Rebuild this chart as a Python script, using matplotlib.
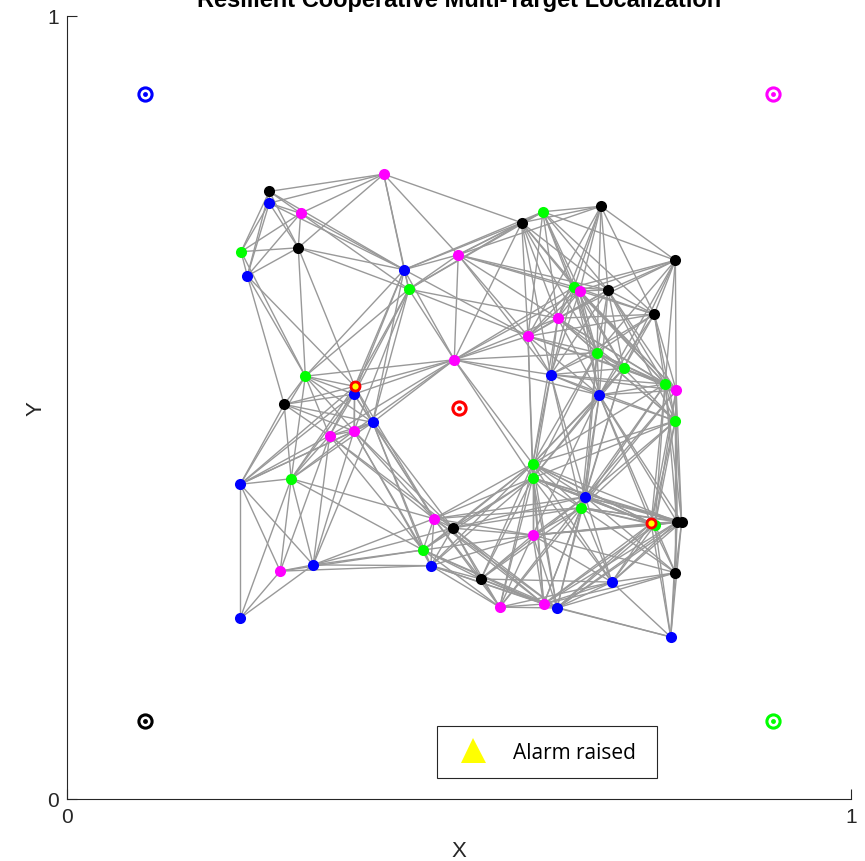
import numpy as np
import matplotlib
matplotlib.use("Agg")
import matplotlib.pyplot as plt
from matplotlib.lines import Line2D

plt.rcParams['font.family'] = ['Liberation Sans', 'DejaVu Sans']

# sensor nodes, grouped by the target they track
blue_x = [0.258, 0.230, 0.430, 0.366, 0.390, 0.221, 0.314, 0.221, 0.464, 0.617, 0.679, 0.661, 0.695, 0.625, 0.770]
blue_y = [0.761, 0.668, 0.676, 0.517, 0.481, 0.402, 0.299, 0.231, 0.298, 0.542, 0.516, 0.386, 0.277, 0.244, 0.207]

black_x = [0.258, 0.295, 0.277, 0.580, 0.681, 0.776, 0.690, 0.749, 0.492, 0.528, 0.778, 0.784, 0.776, 0.367, 0.745]
black_y = [0.776, 0.704, 0.504, 0.736, 0.757, 0.688, 0.650, 0.619, 0.346, 0.281, 0.354, 0.354, 0.289, 0.527, 0.352]

green_x = [0.222, 0.436, 0.304, 0.286, 0.607, 0.647, 0.676, 0.710, 0.763, 0.776, 0.594, 0.594, 0.656, 0.454, 0.750]
green_y = [0.699, 0.651, 0.540, 0.409, 0.750, 0.654, 0.570, 0.550, 0.530, 0.483, 0.428, 0.410, 0.372, 0.318, 0.350]

magenta_x = [0.298, 0.404, 0.499, 0.494, 0.335, 0.366, 0.654, 0.626, 0.588, 0.777, 0.468, 0.594, 0.552, 0.608, 0.272]
magenta_y = [0.748, 0.798, 0.695, 0.561, 0.464, 0.470, 0.649, 0.614, 0.591, 0.522, 0.358, 0.337, 0.245, 0.249, 0.291]

# nodes that raised an alarm
alarm_x = [0.367, 0.745]
alarm_y = [0.527, 0.352]

# targets (corners) and the true target in the middle
target_x = [0.1, 0.9, 0.1, 0.9]
target_y = [0.9, 0.9, 0.1, 0.1]
target_colors = ['blue', 'magenta', 'black', 'lime']
center_x = [0.5]
center_y = [0.5]

comm_range = 0.20

fig = plt.figure(figsize=(8.65, 8.62), dpi=100)
ax = fig.add_axes([67 / 865, 62 / 862, 784 / 865, 783 / 862])

# communication links
all_x = np.array(blue_x + black_x + green_x + magenta_x)
all_y = np.array(blue_y + black_y + green_y + magenta_y)
n = len(all_x)
for i in range(n):
    for j in range(i + 1, n):
        d = np.hypot(all_x[i] - all_x[j], all_y[i] - all_y[j])
        if d < comm_range:
            ax.plot([all_x[i], all_x[j]], [all_y[i], all_y[j]], color=(0.6, 0.6, 0.6), lw=1.0, zorder=1)

# nodes
for xs, ys, c in [(blue_x, blue_y, 'blue'), (black_x, black_y, 'black'),
                  (green_x, green_y, 'lime'), (magenta_x, magenta_y, 'magenta')]:
    ax.plot(xs, ys, 'o', color=c, ms=8, mew=0, zorder=3)

ax.plot(alarm_x, alarm_y, 'o', mfc='yellow', mec='red', ms=6.5, mew=2, zorder=4)

for tx, ty, c in zip(target_x, target_y, target_colors):
    ax.plot(tx, ty, 'o', mfc='white', mec=c, ms=9.5, mew=2.2, zorder=4)
    ax.plot(tx, ty, 'o', color=c, ms=3.5, mew=0, zorder=5)
ax.plot(center_x, center_y, 'o', mfc='white', mec='red', ms=9.5, mew=2.2, zorder=4)
ax.plot(center_x, center_y, 'o', color='red', ms=3.5, mew=0, zorder=5)

ax.set_xlim(0, 1)
ax.set_ylim(0, 1)
ax.set_xticks([0, 1])
ax.set_yticks([0, 1])
ax.set_xticklabels(['0', '1'])
ax.set_yticklabels(['0', '1'])
ax.tick_params(direction='in', length=7, labelsize=15, pad=6, colors=(0.15, 0.15, 0.15))
for s in ['top', 'right']:
    ax.spines[s].set_visible(False)
for s in ['left', 'bottom']:
    ax.spines[s].set_color((0.15, 0.15, 0.15))
ax.set_xlabel('X', fontsize=16, color=(0.15, 0.15, 0.15), labelpad=10)
ax.set_ylabel('Y', fontsize=16, color=(0.15, 0.15, 0.15), labelpad=0)

fig.text(459 / 865, 1 - 7 / 862, 'Resilient Cooperative Multi-Target Localization',
         ha='center', va='baseline', fontsize=17, fontweight='bold')

handle = Line2D([], [], marker='^', ls='none', mfc='yellow', mec='yellow', ms=18, mew=0)
leg = ax.legend([handle], ['Alarm raised '], loc='upper left', bbox_to_anchor=(0.4719, 0.0932),
                borderaxespad=0, prop={'family': 'Open Sans', 'size': 15}, fancybox=False,
                framealpha=1, edgecolor=(0.15, 0.15, 0.15), borderpad=0.75,
                handletextpad=0.9, handlelength=2.0)
leg.get_frame().set_linewidth(0.8)

fig.savefig('out.png', dpi=100)
